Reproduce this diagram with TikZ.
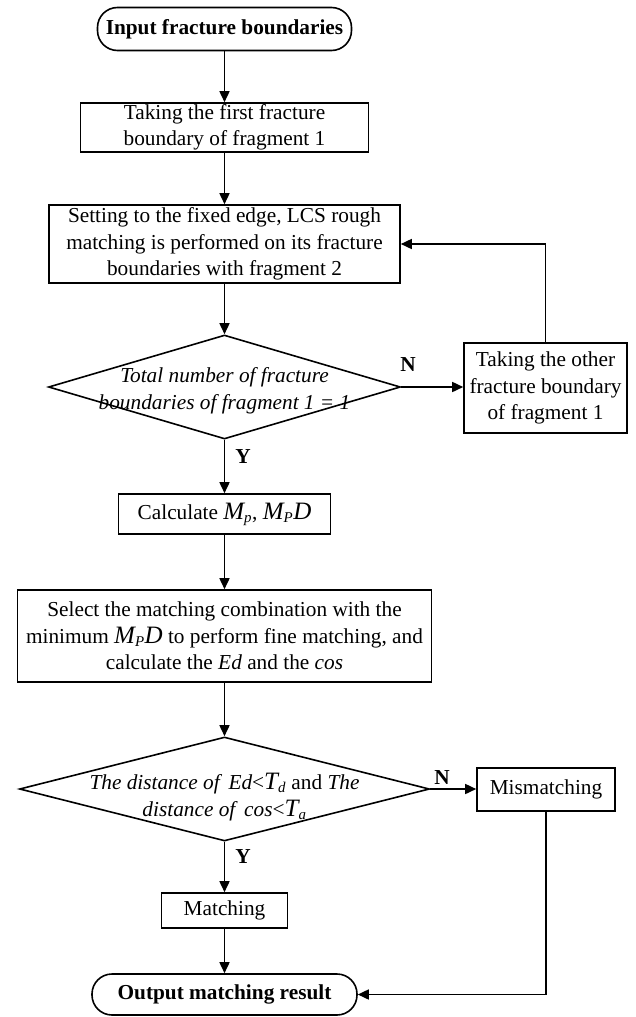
\documentclass[tikz,border=0pt]{standalone}
\usepackage{fontspec}
\setmainfont{Liberation Serif}
\usetikzlibrary{shapes.geometric,arrows.meta}

% text sizes used in the chart
\newcommand\chartfont{\fontsize{21.3}{26.5}\selectfont}
\newcommand\bigvar[1]{{\fontsize{25}{26.5}\selectfont\itshape #1}}
\newcommand\subvar[1]{\textsubscript{\textit{#1}}}

\begin{document}
\begin{tikzpicture}[x=1pt,y=-1pt,
  every node/.style={font=\chartfont},
  stepbox/.style={draw,line width=1.6pt,align=center,inner sep=0pt},
  terminal/.style={draw,line width=1.6pt,rounded corners=20pt,align=center,inner sep=0pt,font=\chartfont\bfseries},
  decision/.style={draw,diamond,line width=1.6pt,inner sep=0pt},
  dtext/.style={align=center,inner sep=0pt,font=\chartfont\itshape},
  lab/.style={inner sep=0pt,font=\chartfont\bfseries},
  arr/.style={-{Triangle[length=11pt,width=10pt]},line width=1.6pt}]

\useasboundingbox (0,0) rectangle (635,1017);

% main column
\node[terminal,minimum width=254pt,minimum height=43pt] (start) at (224.5,29) {Input fracture boundaries};
\node[stepbox,minimum width=288pt,minimum height=49pt] (b1) at (224.5,127.5)
  {Taking the first fracture\\boundary of fragment 1};
\node[stepbox,minimum width=351pt,minimum height=78pt] (b2) at (224.5,244)
  {Setting to the fixed edge, LCS rough\\matching is performed on its fracture\\boundaries with fragment 2};
\node[decision,minimum width=352pt,minimum height=104pt] (d1) at (224.5,387) {};
\node[dtext] (d1t) at (224.5,391) {Total number of fracture\\boundaries of fragment 1 = 1};
\node[stepbox,minimum width=212pt,minimum height=40pt] (calc) at (224.5,514)
  {Calculate \bigvar{M}\subvar{p}, \bigvar{M}\subvar{P}\bigvar{D}};
\node[stepbox,minimum width=414pt,minimum height=92pt] (b4) at (224.5,636)
  {Select the matching combination with the\\minimum \bigvar{M}\subvar{P}\bigvar{D} to perform fine matching, and\\calculate the \textit{Ed} and the \textit{cos}};
\node[decision,minimum width=410pt,minimum height=104pt] (d2) at (224.5,789) {};
\node[dtext] (d2t) at (224.5,797)
  {The distance of \,Ed\upshape{<}\bigvar{T}\subvar{d} and \itshape The\\distance of \,cos\upshape{<}\bigvar{T}\subvar{a}};
\node[stepbox,minimum width=126pt,minimum height=35pt] (match) at (224.5,910.5) {Matching};
\node[terminal,minimum width=265pt,minimum height=41pt] (end) at (224.5,994.5) {Output matching result};

% side column
\node[stepbox,minimum width=163pt,minimum height=90pt] (b3) at (545.5,388)
  {Taking the other\\fracture boundary\\of fragment 1};
\node[stepbox,minimum width=138pt,minimum height=43pt] (mis) at (546,789.5) {Mismatching};

% branch labels
\node[lab] (n1) at (408,365) {N};
\node[lab] (y1) at (243,457) {Y};
\node[lab] (n2) at (442,778) {N};
\node[lab] (y2) at (243,857) {Y};

% connectors
\draw[arr] (start) -- (b1);
\draw[arr] (b1) -- (b2);
\draw[arr] (b2) -- (d1);
\draw[arr] (d1) -- (calc);
\draw[arr] (d1.east) -- (d1.east -| b3.west);
\draw[arr] (b3.north) |- (b2.east);
\draw[arr] (calc) -- (b4);
\draw[arr] (b4) -- (d2);
\draw[arr] (d2) -- (match);
\draw[arr] (d2.east) -- (d2.east -| mis.west);
\draw[arr] (match) -- (end);
\draw[arr] (mis.south) |- (end.east);
\end{tikzpicture}
\end{document}
